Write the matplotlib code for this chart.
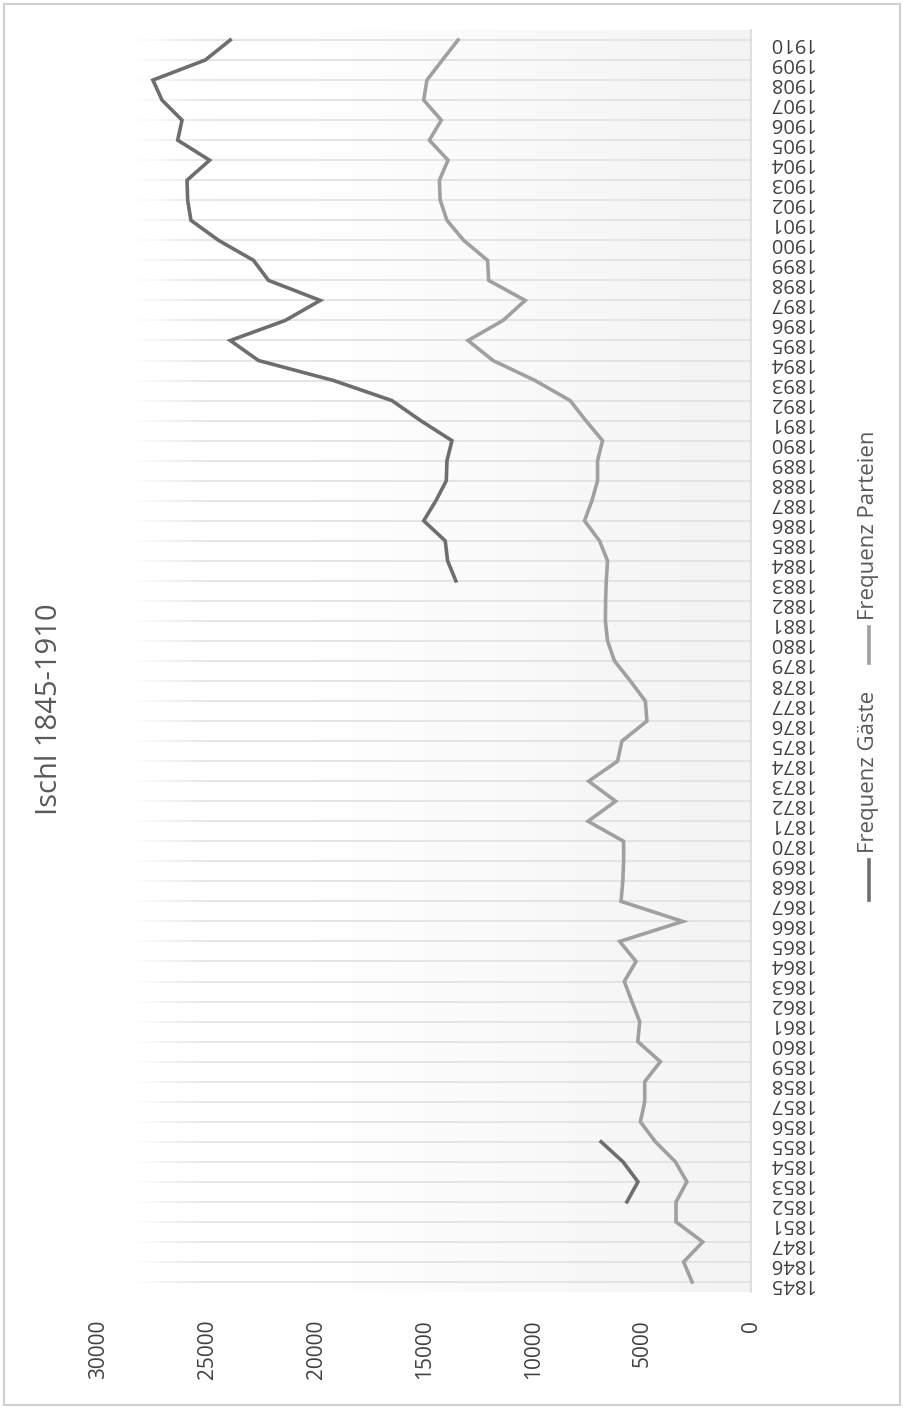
import numpy as np
import matplotlib
matplotlib.use('Agg')
import matplotlib.pyplot as plt
from matplotlib.colors import LinearSegmentedColormap
from matplotlib.lines import Line2D

# font used for all texts
plt.rcParams['font.family'] = ['Open Sans', 'DejaVu Sans']

# categories (years with data, 1848-1850 missing in the source)
years = [1845, 1846, 1847,
         1851, 1852, 1853, 1854, 1855, 1856, 1857, 1858, 1859, 1860,
         1861, 1862, 1863, 1864, 1865, 1866, 1867, 1868, 1869, 1870,
         1871, 1872, 1873, 1874, 1875, 1876, 1877, 1878, 1879, 1880,
         1881, 1882, 1883, 1884, 1885, 1886, 1887, 1888, 1889, 1890,
         1891, 1892, 1893, 1894, 1895, 1896, 1897, 1898, 1899, 1900,
         1901, 1902, 1903, 1904, 1905, 1906, 1907, 1908, 1909, 1910]

# Frequenz Parteien
parteien = [2710, 3100, 2220,
            3450, 3450, 2950, 3480, 4400, 5090, 4890, 4890, 4170, 5210,
            5120, 5480, 5830, 5290, 6040, 3140, 5980, 5900, 5860, 5860,
            7500, 6230, 7470, 6140, 5940, 4790, 4860, 5550, 6280, 6600,
            6700, 6690, 6660, 6600, 6970, 7660, 7320, 7060, 7060, 6830,
            7600, 8320, 9930, 11870, 13020, 11410, 10390, 12070, 12120, 13220,
            13990, 14300, 14340, 13940, 14800, 14250, 15060, 14910, 14200, 13480]

# Frequenz Gäste (gaps where nothing was recorded)
nan = np.nan
gaeste = [nan, nan, nan,
          nan, 5710, 5200, 5890, 6900, nan, nan, nan, nan, nan,
          nan, nan, nan, nan, nan, nan, nan, nan, nan, nan,
          nan, nan, nan, nan, nan, nan, nan, nan, nan, nan,
          nan, nan, 13580, 13960, 14070, 15060, 14500, 14020, 13990, 13760,
          15200, 16520, 19200, 22660, 23960, 21430, 19820, 22200, 22890, 24500,
          25770, 25920, 25950, 24910, 26380, 26180, 27100, 27520, 25110, 23960]

value_ticks = [0, 5000, 10000, 15000, 20000, 25000, 30000]

W, H = 904, 1409
fig = plt.figure(figsize=(W / 100, H / 100), dpi=100)

# whole chart is turned on its side: values run right-to-left, years bottom-to-top
ax = fig.add_axes([99 / W, 1 - 1292 / H, (751 - 99) / W, (1292 - 30) / H])
pos = np.arange(len(years))

# background gradient of the plot area (white -> light grey)
grad = np.linspace(0, 1, 256).reshape(1, -1)
bg_cmap = LinearSegmentedColormap.from_list('bg', ['#ffffff', '#ffffff', '#f9f9f9', '#f3f3f3'])
ax.imshow(grad, cmap=bg_cmap, aspect='auto', extent=[30000, 0, -0.5, 62.5], zorder=0)

# gridlines, faded out on the left side
for p in pos:
    ax.axhline(p, color='#e0e0e0', lw=1.2, zorder=1)
fade = np.zeros((1, 256, 4))
fade[..., :3] = 1.0
fade[0, :, 3] = np.clip(np.linspace(1.4, -0.6, 256), 0, 1)
ax.imshow(fade, aspect='auto', extent=[30000, 22500, -0.5, 62.5], zorder=1.5)

ax.plot(gaeste, pos, color='#6e6e6e', lw=2.6, solid_joinstyle='miter', zorder=3)
ax.plot(parteien, pos, color='#a0a0a0', lw=2.6, solid_joinstyle='miter', zorder=3)

ax.set_xlim(30000, 0)
ax.set_ylim(-0.5, 62.5)

for side in ['top', 'left', 'bottom']:
    ax.spines[side].set_visible(False)
ax.spines['right'].set_color('#d9d9d9')
ax.spines['right'].set_linewidth(1.2)

# year labels on the right, upside down (packed tightly as in the source)
ax.yaxis.tick_right()
ax.set_yticks(pos)
ax.set_yticklabels([str(y) for y in years], rotation=180, fontsize=14.5, color='#404040')
ax.tick_params(axis='y', length=0, pad=12)

# value labels at the bottom, turned by 90 degrees
ax.set_xticks(value_ticks)
ax.set_xticklabels([str(v) for v in value_ticks], rotation=90, fontsize=15, color='#404040')
ax.tick_params(axis='x', length=0, pad=20)

# title
fig.text(50 / W, 1 - 709 / H, 'Ischl 1845-1910', rotation=90, ha='center', va='center',
         fontsize=21, color='#595959')

# legend drawn by hand (turned like the rest)
leg_x = 869 / W
fig.add_artist(Line2D([leg_x, leg_x], [1 - 900 / H, 1 - 860 / H], color='#6e6e6e', lw=2.6,
                      transform=fig.transFigure))
fig.text(leg_x, 1 - 853 / H, 'Frequenz Gäste', rotation=90, ha='center', va='bottom',
         fontsize=16, color='#595959')
fig.add_artist(Line2D([leg_x, leg_x], [1 - 663 / H, 1 - 627 / H], color='#a0a0a0', lw=2.6,
                      transform=fig.transFigure))
fig.text(leg_x, 1 - 620 / H, 'Frequenz Parteien', rotation=90, ha='center', va='bottom',
         fontsize=16, color='#595959')

# thin frame around the chart
fig.add_artist(plt.Rectangle((4 / W, 4 / H), (W - 8) / W, (H - 8) / H, fill=False,
                             edgecolor='#d0d0d0', lw=1.5, transform=fig.transFigure))

fig.savefig('out.png', dpi=100)
